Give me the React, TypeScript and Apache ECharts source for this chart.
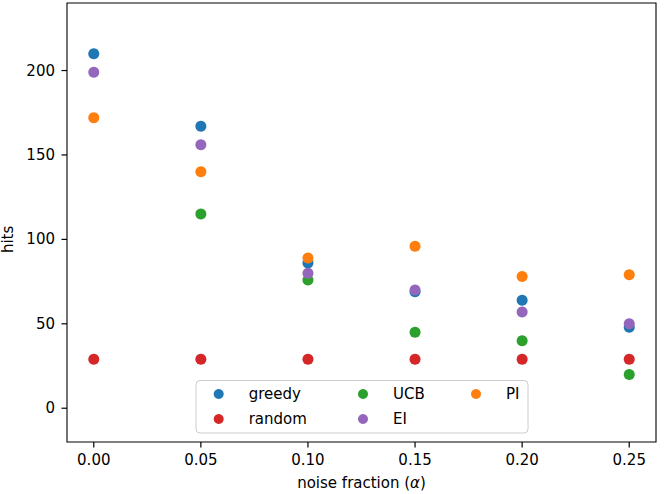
import React, { useEffect, useRef } from "react";
import * as echarts from "echarts";

const noiseFractions = [0.0, 0.05, 0.1, 0.15, 0.2, 0.25];
const greedyHits = [210, 167, 86, 69, 64, 48];
const randomHits = [29, 29, 29, 29, 29, 29];
const ucbHits: (number | null)[] = [null, 115, 76, 45, 40, 20];
const eiHits = [199, 156, 80, 70, 57, 50];
const piHits = [172, 140, 89, 96, 78, 79];

// tick values and view limits of the frame
const xTickValues = [0, 0.05, 0.1, 0.15, 0.2, 0.25];
const yTickValues = [0, 50, 100, 150, 200];
const xTickStep = 0.05;
const yTickStep = 50;
const xView = [-0.0125, 0.2625];
const yView = [-20, 240];

const seriesDefs = [
  { name: "greedy", color: "#1f77b4", values: greedyHits },
  { name: "random", color: "#d62728", values: randomHits },
  { name: "UCB", color: "#2ca02c", values: ucbHits },
  { name: "EI", color: "#9467bd", values: eiHits },
  { name: "PI", color: "#ff7f0e", values: piHits },
];

const FONT = "DejaVu Sans";

// frame (plot area) in pixels
const FRAME = { left: 67, top: 3, width: 589, height: 439 };
const TICK_LEN = 5.5;

export default function App() {
  const ref = useRef<HTMLDivElement>(null);
  useEffect(() => {
    if (!ref.current) return;
    const chart = echarts.init(ref.current, undefined, { renderer: "svg" });
    const W = 666;
    const H = 494;
    const xTickMin = xTickValues[0];
    const xTickMax = xTickValues[xTickValues.length - 1];
    const yTickMin = yTickValues[0];
    const yTickMax = yTickValues[yTickValues.length - 1];
    const pxPerX = FRAME.width / (xView[1] - xView[0]);
    const pxPerY = FRAME.height / (yView[1] - yView[0]);
    const gx0 = FRAME.left + (xTickMin - xView[0]) * pxPerX;
    const gx1 = FRAME.left + (xTickMax - xView[0]) * pxPerX;
    const gyTop = FRAME.top + (yView[1] - yTickMax) * pxPerY;
    const gyBot = FRAME.top + (yView[1] - yTickMin) * pxPerY;
    const frameBottom = FRAME.top + FRAME.height;

    const legendCommon = {
      orient: "vertical" as const,
      itemWidth: 10,
      itemHeight: 10,
      itemGap: 10,
      padding: 0,
      icon: "circle",
      top: 386.5,
      z: 10,
      textStyle: {
        fontFamily: FONT,
        fontSize: 15,
        lineHeight: 15,
        color: "#000",
        padding: [0, 0, 0, 20],
      },
    };
    const baseGraphics: any[] = [
      {
        id: "frame",
        type: "rect",
        z: 1,
        silent: true,
        shape: { x: FRAME.left, y: FRAME.top, width: FRAME.width, height: FRAME.height },
        style: { fill: "none", stroke: "#000", lineWidth: 1.1 },
      },
      {
        id: "legendBox",
        type: "rect",
        z: 5,
        shape: { x: 196, y: 380.5, width: 332, height: 52.5, r: 4 },
        style: { fill: "rgba(255,255,255,0.8)", stroke: "#cccccc", lineWidth: 1 },
      },
    ];
    chart.setOption({
      animation: false,
      backgroundColor: "#fff",
      textStyle: { fontFamily: FONT },
      grid: {
        left: gx0,
        right: W - gx1,
        top: gyTop,
        bottom: H - gyBot,
        show: false,
        containLabel: false,
        outerBoundsMode: "none",
      },
      xAxis: {
        type: "value",
        min: xTickMin,
        max: xTickMax,
        interval: xTickStep,
        offset: frameBottom - gyBot,
        splitLine: { show: false },
        axisLine: { show: false, onZero: false },
        axisTick: { show: false },
        axisLabel: {
          formatter: (v: number) => v.toFixed(2),
          fontFamily: FONT,
          fontSize: 15,
          color: "#000",
          margin: 10,
        },
        name: "noise fraction ({i|α})",
        nameLocation: "middle",
        nameGap: 33,
        nameTextStyle: {
          fontFamily: FONT,
          fontSize: 15,
          color: "#000",
          rich: {
            i: { fontFamily: FONT, fontSize: 15, fontStyle: "italic", color: "#000" },
          },
        },
      },
      yAxis: {
        type: "value",
        min: yTickMin,
        max: yTickMax,
        interval: yTickStep,
        offset: gx0 - FRAME.left,
        splitLine: { show: false },
        axisLine: { show: false, onZero: false },
        axisTick: { show: false },
        axisLabel: {
          fontFamily: FONT,
          fontSize: 15,
          color: "#000",
          margin: 12,
        },
        name: "hits",
        nameLocation: "middle",
        nameGap: 43,
        nameTextStyle: { fontFamily: FONT, fontSize: 15, color: "#000" },
      },
      legend: [
        { ...legendCommon, left: 213.7, data: ["greedy", "random"] },
        { ...legendCommon, left: 358, data: ["UCB", "EI"] },
        { ...legendCommon, left: 471, data: ["PI"] },
      ],
      graphic: baseGraphics,
      series: seriesDefs.map((s) => ({
        name: s.name,
        type: "scatter",
        symbol: "circle",
        symbolSize: 11,
        clip: false,
        itemStyle: { color: s.color, opacity: 1 },
        emphasis: { disabled: true },
        data: noiseFractions
          .map((x, i) => [x, s.values[i]])
          .filter((p) => p[1] !== null),
      })),
    });

    // tick marks placed through the axes' own scales
    const toPx = (axis: "x" | "y", v: number): number => {
      const r: any = chart.convertToPixel(
        axis === "x" ? { xAxisIndex: 0 } : { yAxisIndex: 0 },
        v
      );
      const n = Array.isArray(r) ? r[axis === "x" ? 0 : 1] : r;
      if (typeof n === "number" && isFinite(n)) return n;
      return axis === "x"
        ? gx0 + (v - xTickMin) * pxPerX
        : gyBot - (v - yTickMin) * pxPerY;
    };
    const tickGraphics: any[] = [];
    xTickValues.forEach((v, i) => {
      const px = toPx("x", v);
      tickGraphics.push({
        id: "xt" + i,
        type: "rect",
        z: 20,
        silent: true,
        shape: { x: px - 0.6, y: frameBottom, width: 1.2, height: TICK_LEN },
        style: { fill: "#000" },
      });
    });
    yTickValues.forEach((v, i) => {
      const py = toPx("y", v);
      tickGraphics.push({
        id: "yt" + i,
        type: "rect",
        z: 20,
        silent: true,
        shape: { x: FRAME.left - TICK_LEN, y: py - 0.6, width: TICK_LEN, height: 1.2 },
        style: { fill: "#000" },
      });
    });
    chart.setOption({ graphic: [...baseGraphics, ...tickGraphics] });

    return () => chart.dispose();
  }, []);
  return (
    <div
      ref={ref}
      style={{ position: "absolute", left: 0, top: 0, width: 666, height: 494 }}
    />
  );
}
